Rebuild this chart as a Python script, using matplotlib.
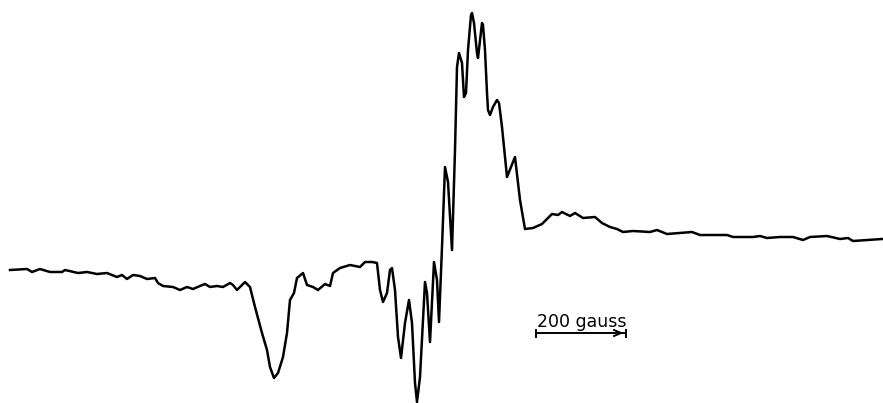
import matplotlib
matplotlib.use('Agg')
import matplotlib.pyplot as plt

# trace (field position, signal amplitude; baseline ~0)
field = [10, 27, 32, 40, 50, 62, 65, 78, 87, 97, 107, 117, 122, 127, 133, 140,
         147, 155, 158, 163, 173, 180, 187, 193, 200, 205, 210, 217, 223, 230,
         233, 237, 240, 245, 250, 255, 262, 267, 270, 274, 278, 283, 287, 290,
         294, 297, 303, 307, 313, 318, 325, 330, 333, 340, 350, 360, 365, 372,
         377, 380, 383, 387, 390, 392, 395, 398, 401, 405, 409, 412, 415, 417,
         420, 425, 427, 430, 434, 437, 439, 442, 445, 448, 452, 455, 457, 459,
         462, 464, 466, 468, 471, 472, 474, 477, 478, 480, 482, 483, 485, 487,
         488, 490, 493, 497, 499, 502, 507, 515, 520, 525, 533, 542, 552, 558,
         562, 570, 575, 583, 595, 602, 610, 617, 623, 633, 650, 657, 667, 680,
         692, 700, 727, 733, 753, 760, 767, 780, 793, 803, 810, 827, 840, 848,
         853, 867, 882]
trace_px = [270, 269, 272, 269, 272, 272, 270, 273, 272, 274, 273, 277, 275, 279,
            275, 276, 279, 278, 283, 286, 287, 290, 287, 289, 286, 284, 287, 286,
            287, 283, 285, 290, 287, 282, 287, 307, 333, 350, 367, 378, 373, 357,
            333, 300, 293, 278, 273, 285, 287, 290, 284, 286, 273, 268, 265, 267,
            262, 262, 263, 290, 302, 293, 270, 268, 290, 337, 358, 323, 300, 323,
            383, 402, 377, 282, 293, 342, 262, 280, 322, 247, 167, 182, 250, 150,
            67, 53, 63, 97, 93, 50, 15, 13, 23, 53, 58, 40, 23, 25, 50, 93, 110,
            115, 107, 100, 103, 127, 177, 157, 200, 229, 228, 224, 214, 215, 212,
            216, 213, 218, 217, 223, 227, 229, 232, 231, 232, 230, 234, 233, 232,
            235, 235, 237, 237, 236, 238, 237, 237, 240, 237, 236, 239, 238, 241,
            240, 239]
signal = [270 - v for v in trace_px]

scale_label = '200 gauss'

fig = plt.figure(figsize=(8.83, 4.03), dpi=100)
ax = fig.add_axes([0, 0, 1, 1])
ax.plot(field, signal, color='black', lw=1.8, solid_joinstyle='round')

# scale bar
ax.plot([536, 626], [-63, -63], color='black', lw=1.4)
ax.plot([536, 536], [-60, -67], color='black', lw=1.4)
ax.plot([626, 626], [-60, -67], color='black', lw=1.4)
ax.plot([614, 621, 614], [-60, -63, -66], color='black', lw=1.4)
ax.text(582, -57, scale_label, ha='center', va='baseline', fontsize=12.5,
        family='DejaVu Sans')

ax.set_xlim(0, 883)
ax.set_ylim(-133, 270)
ax.axis('off')
fig.savefig('out.png', dpi=100, facecolor='white')
